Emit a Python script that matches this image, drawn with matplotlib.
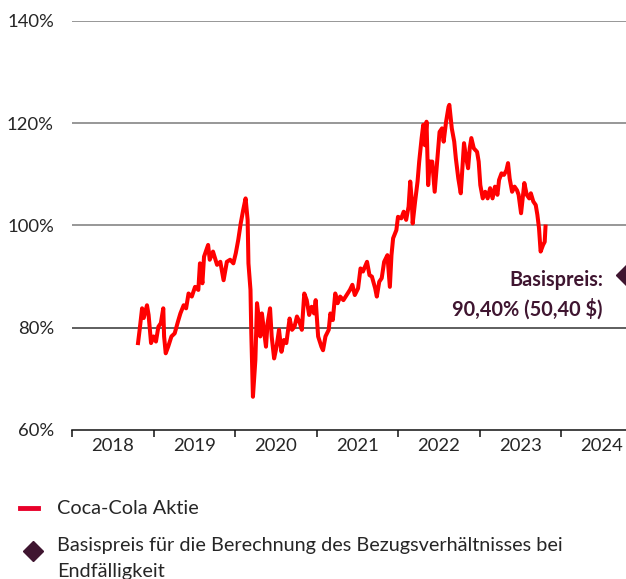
import matplotlib
matplotlib.use("Agg")
import matplotlib.pyplot as plt
from matplotlib.lines import Line2D

plt.rcParams['font.family'] = ['Lato', 'DejaVu Sans']

# Kursverlauf Coca-Cola (in % vom Basispreis-Referenzniveau)
years = [
    2018.81, 2018.83, 2018.86, 2018.88, 2018.92, 2018.94, 2018.97, 2019.00,
    2019.03, 2019.06, 2019.09, 2019.12, 2019.13, 2019.15, 2019.18, 2019.22,
    2019.26, 2019.30, 2019.33, 2019.37, 2019.40, 2019.43, 2019.47, 2019.51,
    2019.55, 2019.57, 2019.60, 2019.62, 2019.67, 2019.69, 2019.73, 2019.78,
    2019.82, 2019.86, 2019.90, 2019.94, 2019.98, 2020.01, 2020.04, 2020.07,
    2020.10, 2020.13, 2020.155, 2020.165, 2020.19, 2020.20, 2020.22, 2020.25,
    2020.27, 2020.29, 2020.31, 2020.33, 2020.36, 2020.38, 2020.40, 2020.43,
    2020.45, 2020.48, 2020.51, 2020.54, 2020.57, 2020.60, 2020.63, 2020.67,
    2020.70, 2020.73, 2020.76, 2020.79, 2020.82, 2020.85, 2020.88, 2020.91,
    2020.94, 2020.97, 2020.99, 2021.02, 2021.06, 2021.08, 2021.11, 2021.15,
    2021.17, 2021.20, 2021.23, 2021.26, 2021.29, 2021.33, 2021.37, 2021.41,
    2021.44, 2021.47, 2021.51, 2021.54, 2021.57, 2021.62, 2021.65, 2021.68,
    2021.72, 2021.74, 2021.77, 2021.80, 2021.83, 2021.87, 2021.90, 2021.92,
    2021.94, 2021.98, 2022.00, 2022.04, 2022.07, 2022.10, 2022.13, 2022.15,
    2022.17, 2022.18, 2022.21, 2022.24, 2022.26, 2022.29, 2022.31, 2022.33,
    2022.35, 2022.37, 2022.39, 2022.42, 2022.45, 2022.48, 2022.51, 2022.54,
    2022.56, 2022.59, 2022.62, 2022.63, 2022.66, 2022.69, 2022.71, 2022.74,
    2022.77, 2022.79, 2022.81, 2022.83, 2022.86, 2022.88, 2022.90, 2022.93,
    2022.97, 2022.99, 2023.01, 2023.04, 2023.07, 2023.10, 2023.13, 2023.16,
    2023.19, 2023.22, 2023.24, 2023.27, 2023.30, 2023.33, 2023.35, 2023.37,
    2023.40, 2023.43, 2023.46, 2023.48, 2023.51, 2023.53, 2023.55, 2023.58,
    2023.61, 2023.63, 2023.66, 2023.69, 2023.71, 2023.73, 2023.75, 2023.78,
    2023.80, 2023.81,
]
kurs = [
    77.0, 79.6, 83.8, 81.9, 84.4, 82.5, 77.0, 78.3,
    77.3, 80.2, 80.9, 83.8, 78.3, 75.0, 76.3, 78.3,
    78.9, 81.2, 82.8, 84.4, 83.8, 86.7, 86.1, 88.0,
    87.4, 92.6, 88.7, 93.9, 96.2, 93.3, 94.9, 92.3,
    92.9, 89.3, 92.9, 93.3, 92.6, 94.6, 97.2, 100.4,
    103.0, 105.3, 101.1, 92.6, 87.4, 78.9, 66.5, 73.7,
    84.8, 82.2, 78.3, 82.8, 78.9, 76.3, 80.9, 83.8,
    78.3, 74.0, 76.3, 79.6, 75.3, 77.6, 77.0, 81.8,
    79.6, 80.2, 82.2, 81.2, 79.6, 86.7, 85.4, 82.5,
    84.1, 82.8, 85.4, 78.3, 76.3, 75.6, 78.3, 79.6,
    82.8, 81.5, 86.7, 84.8, 86.1, 85.4, 86.4, 87.4,
    88.4, 86.4, 87.7, 91.6, 91.0, 92.9, 90.3, 90.0,
    87.7, 86.1, 89.0, 89.7, 92.9, 94.2, 88.0, 94.2,
    97.5, 99.1, 101.7, 101.4, 102.7, 101.1, 103.7, 108.6,
    104.7, 100.4, 104.7, 108.6, 112.5, 117.1, 119.7, 115.7,
    120.3, 107.9, 112.5, 112.5, 106.6, 112.5, 118.3, 119.0,
    116.4, 120.3, 123.2, 123.6, 119.0, 116.4, 113.1, 109.2,
    106.3, 111.2, 116.1, 113.8, 111.2, 115.1, 117.1, 115.1,
    114.4, 112.5, 107.9, 105.3, 106.6, 105.3, 107.3, 105.3,
    107.6, 106.0, 108.9, 110.2, 109.9, 110.8, 112.2, 109.2,
    106.6, 107.6, 106.9, 106.0, 102.4, 105.3, 108.3, 106.0,
    105.3, 106.3, 104.7, 104.0, 102.1, 99.5, 94.9, 96.2,
    96.8, 99.8,
]

basis_x = 2024.8
basis_y = 90.40

y_ticks = [60, 80, 100, 120, 140]
y_labels = ["60%", "80%", "100%", "120%", "140%"]
x_years = [2018, 2019, 2020, 2021, 2022, 2023, 2024]

RED = "#ff0000"
PURPLE = "#3f1530"
TEXT = "#262626"

fig = plt.figure(figsize=(6.26, 5.79), dpi=100)
ax = fig.add_axes([72 / 626, 1 - 430 / 579, 1 - 72 / 626, 409 / 579])

for v in y_ticks[1:]:
    col = "#333333" if v == 80 else "#7a7a7a"
    ax.axhline(v, color=col, lw=1.1, zorder=1)

ax.plot(years, kurs, color=RED, lw=2.9, solid_joinstyle="round", zorder=3)
ax.plot([basis_x], [basis_y], marker="D", ms=10, color=PURPLE,
        clip_on=False, zorder=4)

ax.text(2024.515, 89.3, "Basispreis:", ha="right", va="center",
        fontsize=14.3, fontweight="bold", color=PURPLE)
ax.text(2024.515, 83.6, "90,40% (50,40 $)", ha="right", va="center",
        fontsize=14.3, fontweight="bold", color=PURPLE)

ax.set_xlim(2018, 2018 + 554 / 81.5)
ax.set_ylim(60, 140)
for s in ["top", "right", "left"]:
    ax.spines[s].set_visible(False)
ax.spines["bottom"].set_color("#111111")
ax.spines["bottom"].set_linewidth(1.1)

ax.set_yticks(y_ticks)
ax.set_yticklabels(y_labels, fontsize=13.3, color=TEXT)
ax.tick_params(axis="y", length=0, pad=13)

ax.set_xticks(x_years)
ax.set_xticklabels([])
ax.set_xticks([y + 0.5 for y in x_years], minor=True)
ax.set_xticklabels([str(y) for y in x_years], minor=True, fontsize=13.3,
                   color=TEXT)
ax.tick_params(axis="x", which="major", length=5, width=1.1, color="#111111")
ax.tick_params(axis="x", which="minor", length=0, pad=6)

# Legende unten
fig.add_artist(Line2D([20 / 626, 38 / 626], [1 - 508 / 579] * 2,
                      color="#e8002a", lw=3.5))
fig.text(57 / 626, 1 - 508 / 579, "Coca-Cola Aktie", fontsize=14.3,
         color=TEXT, va="center")
fig.add_artist(Line2D([33 / 626], [1 - 551 / 579], marker="D", ms=10,
                      color=PURPLE, lw=0))
fig.text(57 / 626, 1 - 545 / 579,
         "Basispreis für die Berechnung des Bezugsverhältnisses bei",
         fontsize=14.3, color=TEXT, va="center")
fig.text(57 / 626, 1 - 571 / 579, "Endfälligkeit", fontsize=14.3,
         color=TEXT, va="center")

fig.savefig("out.png", dpi=100)
